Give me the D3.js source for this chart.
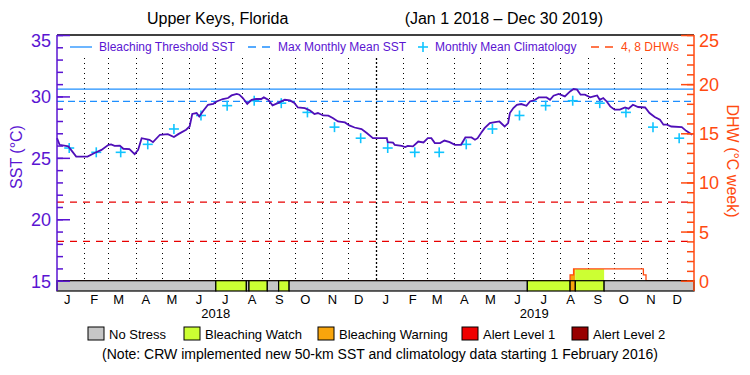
<!DOCTYPE html>
<html>
<head>
<meta charset="utf-8">
<script src="https://cdn.jsdelivr.net/npm/d3@7"></script>
<style>
  body { margin: 0; background: #fff; }
  svg { display: block; font-family: "Liberation Sans", Arial, sans-serif; }
</style>
</head>
<body>
<div id="container"></div>
<script>
var sstDates = ["2018-01-01","2018-01-04","2018-01-14","2018-01-23","2018-02-05","2018-02-13","2018-02-21","2018-03-01","2018-03-04","2018-03-08",
  "2018-03-14","2018-03-18","2018-03-25","2018-03-31","2018-04-04","2018-04-08","2018-04-17","2018-04-21","2018-04-29","2018-05-08",
  "2018-05-15","2018-05-20","2018-05-29","2018-06-02","2018-06-05","2018-06-10","2018-06-13","2018-06-17","2018-06-23","2018-06-29",
  "2018-07-03","2018-07-10","2018-07-16","2018-07-20","2018-07-26","2018-07-29","2018-08-02","2018-08-07","2018-08-12","2018-08-17",
  "2018-08-23","2018-08-26","2018-08-31","2018-09-05","2018-09-11","2018-09-19","2018-09-25","2018-09-30","2018-10-04","2018-10-12",
  "2018-10-18","2018-10-23","2018-10-27","2018-11-02","2018-11-08","2018-11-13","2018-11-19","2018-11-27","2018-12-02","2018-12-08",
  "2018-12-16","2018-12-22","2018-12-29","2019-01-14","2019-01-15","2019-01-21","2019-01-23","2019-01-31","2019-02-04","2019-02-07",
  "2019-02-13","2019-02-19","2019-02-25","2019-03-02","2019-03-06","2019-03-10","2019-03-16","2019-03-21","2019-03-27","2019-04-02",
  "2019-04-09","2019-04-14","2019-04-21","2019-04-25","2019-04-28","2019-05-02","2019-05-06","2019-05-12","2019-05-18","2019-05-23",
  "2019-05-29","2019-06-02","2019-06-04","2019-06-08","2019-06-12","2019-06-17","2019-06-23","2019-06-27","2019-07-03","2019-07-07",
  "2019-07-16","2019-07-20","2019-07-24","2019-07-30","2019-08-06","2019-08-12","2019-08-16","2019-08-20","2019-08-24","2019-08-29",
  "2019-09-04","2019-09-08","2019-09-12","2019-09-15","2019-09-19","2019-09-23","2019-09-27","2019-10-02","2019-10-08","2019-10-14",
  "2019-10-18","2019-10-23","2019-10-29","2019-11-06","2019-11-11","2019-11-17","2019-11-23","2019-11-27","2019-12-01","2019-12-06",
  "2019-12-18","2019-12-23","2019-12-30"];
var sstValues = [26.6,26.06,25.93,25.1,25.1,25.4,25.65,26.06,26.1,25.98,
  26.0,25.74,25.71,25.3,25.65,26.6,26.47,26.28,26.88,26.93,
  26.69,26.93,27.29,27.55,28.57,28.65,28.37,28.78,29.32,29.4,
  29.59,29.79,29.87,30.08,30.2,30.14,29.87,29.4,29.73,29.79,
  29.79,29.92,29.73,29.27,29.46,29.73,29.67,29.46,29.1,29.05,
  28.86,28.57,28.65,28.45,28.43,28.24,27.96,27.88,27.64,27.47,
  27.34,27.02,26.6,26.6,26.28,26.25,26.06,25.98,25.88,25.98,
  25.93,26.33,26.25,26.6,26.6,26.2,26.2,26.41,26.28,26.06,
  26.06,26.66,26.66,26.47,26.6,27.02,27.42,27.83,27.9,27.96,
  27.55,27.83,28.65,29.05,29.32,29.38,29.24,29.59,29.73,29.92,
  29.92,29.73,30.06,30.2,30.0,30.41,30.6,30.55,30.14,30.14,
  29.92,30.0,30.08,29.73,29.87,29.59,29.19,28.92,28.92,29.1,
  29.0,29.32,29.14,29.1,28.65,28.32,28.1,27.7,27.7,27.55,
  27.5,27.2,26.88];

// monthly mean climatology (Jan..Dec)
var climValues = [25.8,25.45,25.45,26.1,27.35,28.45,29.25,29.65,29.45,28.7,27.5,26.6];
var climYears = [2018, 2019];

var bleachingThreshold = 30.6;
var maxMonthlyMean = 29.6;
var dhwLevels = [4, 8];

// degree heating weeks
var dhwDates = ["2018-01-01","2019-08-12","2019-08-16","2019-11-04","2019-11-07","2019-12-30"];
var dhwValues = [0,0.6,1.2,0.6,0,0];

// stress level bar: 0 no stress, 1 watch, 2 warning, 3 alert 1, 4 alert 2
var stressStarts = ["2018-01-01","2018-07-02","2018-08-06","2018-08-09","2018-08-30","2018-09-12","2018-09-24","2019-06-24","2019-08-12","2019-08-18","2019-09-20"];
var stressEnds   = ["2018-07-02","2018-08-06","2018-08-09","2018-08-30","2018-09-12","2018-09-24","2019-06-24","2019-08-12","2019-08-18","2019-09-20","2020-01-01"];
var stressLevels = [0,1,0,1,0,1,0,1,2,1,0];

var stressNames = ["No Stress","Bleaching Watch","Bleaching Warning","Alert Level 1","Alert Level 2"];
var stressColors = ["#c6c6c6","#ccff33","#f8a50c","#f00000","#980000"];

var monthLabels = ["J","F","M","A","M","J","J","A","S","O","N","D"];
var yearLabels = ["2018","2019"];
var sstTicks = [15,20,25,30,35];
var dhwTicks = [0,5,10,15,20,25];

var purple = "#5a14d2", lineColor = "#4f0fb8", blue = "#1e8fff", cyan = "#10c4ff", orange = "#ff4a10", red = "#e80000";

var W = 750, H = 375,
    plotLeft = 57, plotRight = 694, plotTop = 35, barTop = 280.7, barBottom = 291;

var parse = d3.timeParse("%Y-%m-%d");

var svg = d3.select('#container')
    .append('svg')
    .attr('width', W)
    .attr('height', H);

var x = d3.scaleTime()
    .domain([new Date(2018, 0, 1), new Date(2020, 0, 1)])
    .range([plotLeft, plotRight]);

var ySST = d3.scaleLinear().domain([15, 35]).range([barTop, plotTop]);
var yDHW = d3.scaleLinear().domain([0, 25]).range([barTop, plotTop]);

// title
svg.append('text').attr('x', 147).attr('y', 24).attr('font-size', 16).text('Upper Keys, Florida');
svg.append('text').attr('x', 603).attr('y', 24).attr('font-size', 16).attr('text-anchor', 'end')
    .text('(Jan 1 2018 \u2013 Dec 30 2019)');

// month grid (dotted), starts under the legend row
var monthStarts = d3.timeMonth.range(new Date(2018, 1, 1), new Date(2020, 0, 1));
svg.append('g').selectAll('line')
    .data(monthStarts)
    .enter()
    .append('line')
    .attr('x1', function(d) { return Math.round(x(d)) + 0.5; })
    .attr('x2', function(d) { return Math.round(x(d)) + 0.5; })
    .attr('y1', 58)
    .attr('y2', barTop)
    .attr('stroke', '#000')
    .attr('stroke-width', function(d) { return d.getMonth() === 0 ? 1.3 : 1; })
    .attr('stroke-dasharray', function(d) { return d.getMonth() === 0 ? '2,2' : '1,4'; });

// threshold + MMM
svg.append('line')
    .attr('x1', plotLeft).attr('x2', plotRight)
    .attr('y1', ySST(bleachingThreshold)).attr('y2', ySST(bleachingThreshold))
    .attr('stroke', blue).attr('stroke-width', 1.3);
svg.append('line')
    .attr('x1', plotLeft).attr('x2', plotRight)
    .attr('y1', ySST(maxMonthlyMean)).attr('y2', ySST(maxMonthlyMean))
    .attr('stroke', blue).attr('stroke-width', 1.3).attr('stroke-dasharray', '7,4');

// DHW 4 and 8 lines
svg.append('g').selectAll('line')
    .data(dhwLevels)
    .enter()
    .append('line')
    .attr('x1', plotLeft).attr('x2', plotRight)
    .attr('y1', function(d) { return yDHW(d); })
    .attr('y2', function(d) { return yDHW(d); })
    .attr('stroke', red).attr('stroke-width', 1.3).attr('stroke-dasharray', '7,6');

// climatology crosses
var climPoints = [];
climYears.forEach(function(yr) {
    climValues.forEach(function(v, m) {
        climPoints.push({ date: new Date(yr, m, 15), value: v });
    });
});
var cross = svg.append('g').selectAll('g')
    .data(climPoints)
    .enter()
    .append('g')
    .attr('transform', function(d) {
        return 'translate(' + x(d.date) + ',' + ySST(d.value) + ')';
    });
cross.append('line').attr('x1', -5).attr('x2', 5).attr('y1', 0).attr('y2', 0)
    .attr('stroke', cyan).attr('stroke-width', 1.6);
cross.append('line').attr('x1', 0).attr('x2', 0).attr('y1', -5).attr('y2', 5)
    .attr('stroke', cyan).attr('stroke-width', 1.6);

// SST line
var sstData = sstDates.map(function(d, i) { return { date: parse(d), value: sstValues[i] }; });
svg.append('path')
    .datum(sstData)
    .attr('fill', 'none')
    .attr('stroke', lineColor)
    .attr('stroke-width', 1.8)
    .attr('d', d3.line()
        .x(function(d) { return x(d.date); })
        .y(function(d) { return ySST(d.value); }));

// DHW area, filled with the stress colour of each period
var dhwData = dhwDates.map(function(d, i) { return { date: parse(d), value: dhwValues[i] }; });
var dhwArea = d3.area()
    .curve(d3.curveStepAfter)
    .x(function(d) { return x(d.date); })
    .y0(barTop)
    .y1(function(d) { return yDHW(d.value); });
var defs = svg.append('defs');
stressLevels.forEach(function(lvl, i) {
    if (lvl === 0) return;
    var x0 = x(parse(stressStarts[i])), x1 = x(parse(stressEnds[i]));
    defs.append('clipPath').attr('id', 'seg' + i)
        .append('rect').attr('x', x0).attr('width', x1 - x0).attr('y', plotTop).attr('height', barTop - plotTop);
    svg.append('path')
        .datum(dhwData)
        .attr('clip-path', 'url(#seg' + i + ')')
        .attr('fill', stressColors[lvl])
        .attr('d', dhwArea);
});

// DHW line
svg.append('path')
    .datum(dhwData)
    .attr('fill', 'none')
    .attr('stroke', orange)
    .attr('stroke-width', 1.3)
    .attr('d', d3.line()
        .curve(d3.curveStepAfter)
        .x(function(d) { return x(d.date); })
        .y(function(d) { return yDHW(d.value); }));

// stress bar
svg.append('g').selectAll('rect')
    .data(stressLevels)
    .enter()
    .append('rect')
    .attr('x', function(d, i) { return x(parse(stressStarts[i])); })
    .attr('width', function(d, i) { return x(parse(stressEnds[i])) - x(parse(stressStarts[i])); })
    .attr('y', barTop)
    .attr('height', barBottom - barTop)
    .attr('fill', function(d) { return stressColors[d]; })
    .attr('stroke', '#000')
    .attr('stroke-width', 1.2);

// frame top
svg.append('line').attr('x1', plotLeft).attr('x2', plotRight).attr('y1', plotTop).attr('y2', plotTop)
    .attr('stroke', '#000').attr('stroke-width', 1.5);

// left axis (SST)
var gL = svg.append('g').attr('transform', 'translate(' + plotLeft + ',0)');
gL.append('g').call(d3.axisLeft(ySST).tickValues(d3.range(15, 36, 1)).tickSize(-6).tickFormat(''));
gL.append('g').call(d3.axisLeft(ySST).tickValues(sstTicks).tickSize(-13).tickPadding(6));
gL.selectAll('.domain').remove();
gL.append('line').attr('x1', 0).attr('x2', 0).attr('y1', plotTop).attr('y2', barBottom);
gL.selectAll('line').attr('stroke', purple).attr('stroke-width', 1.5);
gL.selectAll('text').attr('fill', purple).attr('font-size', 18)
    .attr('font-family', '"Liberation Sans", Arial, sans-serif')
    .attr('dy', function(d) { return d === 35 ? '0.66em' : '0.36em'; });

// right axis (DHW)
var gR = svg.append('g').attr('transform', 'translate(' + plotRight + ',0)');
gR.append('g').call(d3.axisRight(yDHW).tickValues(d3.range(0, 26, 1)).tickSize(-7).tickFormat(''));
gR.append('g').call(d3.axisRight(yDHW).tickValues(dhwTicks).tickSize(-13).tickPadding(5));
gR.selectAll('.domain').remove();
gR.append('line').attr('x1', 0).attr('x2', 0).attr('y1', plotTop).attr('y2', barBottom);
gR.selectAll('line').attr('stroke', orange).attr('stroke-width', 1.5);
gR.selectAll('text').attr('fill', orange).attr('font-size', 18)
    .attr('font-family', '"Liberation Sans", Arial, sans-serif')
    .attr('dy', function(d) { return d === 25 ? '0.66em' : '0.36em'; });

// axis titles
svg.append('text')
    .attr('transform', 'translate(22,157) rotate(-90)')
    .attr('text-anchor', 'middle').attr('font-size', 16).attr('fill', purple)
    .text('SST (\u00B0C)');
svg.append('text')
    .attr('transform', 'translate(727,161) rotate(90)')
    .attr('text-anchor', 'middle').attr('font-size', 16).attr('fill', orange)
    .text('DHW (\u00B0C week)');

// month labels
var monthMids = d3.timeMonth.range(new Date(2018, 0, 1), new Date(2020, 0, 1));
svg.append('g').selectAll('text')
    .data(monthMids)
    .enter()
    .append('text')
    .attr('x', function(d) { return x(d3.timeDay.offset(d, 14)) - 2; })
    .attr('y', 304)
    .attr('text-anchor', 'middle')
    .attr('font-size', 13)
    .text(function(d) { return monthLabels[d.getMonth()]; });

// year labels
svg.append('g').selectAll('text')
    .data(yearLabels)
    .enter()
    .append('text')
    .attr('x', function(d) { return x(new Date(+d, 6, 2)); })
    .attr('y', 318)
    .attr('text-anchor', 'middle')
    .attr('font-size', 13)
    .text(function(d) { return d; });

// top legend
var legY = 47;
svg.append('line').attr('x1', 70).attr('x2', 92).attr('y1', legY).attr('y2', legY)
    .attr('stroke', blue).attr('stroke-width', 1.3);
svg.append('text').attr('x', 99).attr('y', legY + 4).attr('font-size', 12).attr('fill', purple)
    .text('Bleaching Threshold SST');
svg.append('line').attr('x1', 248).attr('x2', 272).attr('y1', legY).attr('y2', legY)
    .attr('stroke', blue).attr('stroke-width', 1.3).attr('stroke-dasharray', '8,6');
svg.append('text').attr('x', 278).attr('y', legY + 4).attr('font-size', 12).attr('fill', purple)
    .text('Max Monthly Mean SST');
svg.append('line').attr('x1', 418).attr('x2', 428).attr('y1', legY).attr('y2', legY)
    .attr('stroke', cyan).attr('stroke-width', 1.6);
svg.append('line').attr('x1', 423).attr('x2', 423).attr('y1', legY - 5).attr('y2', legY + 5)
    .attr('stroke', cyan).attr('stroke-width', 1.6);
svg.append('text').attr('x', 435).attr('y', legY + 4).attr('font-size', 12).attr('fill', purple)
    .text('Monthly Mean Climatology');
svg.append('line').attr('x1', 591).attr('x2', 615).attr('y1', legY).attr('y2', legY)
    .attr('stroke', orange).attr('stroke-width', 1.3).attr('stroke-dasharray', '8,6');
svg.append('text').attr('x', 621).attr('y', legY + 4).attr('font-size', 12).attr('fill', orange)
    .text('4, 8 DHWs');

// bottom legend
var legX = [88, 184, 318, 462, 572];
var leg = svg.append('g').selectAll('g')
    .data(stressNames)
    .enter()
    .append('g')
    .attr('transform', function(d, i) { return 'translate(' + legX[i] + ',327)'; });
leg.append('rect')
    .attr('width', 16).attr('height', 13)
    .attr('fill', function(d, i) { return stressColors[i]; })
    .attr('stroke', '#000').attr('stroke-width', 1);
leg.append('text')
    .attr('x', 21).attr('y', 11.5)
    .attr('font-size', 13)
    .text(function(d) { return d; });

svg.append('text')
    .attr('x', 380).attr('y', 359)
    .attr('text-anchor', 'middle')
    .attr('font-size', 14)
    .text('(Note: CRW implemented new 50-km SST and climatology data starting 1 February 2016)');
</script>
</body>
</html>
